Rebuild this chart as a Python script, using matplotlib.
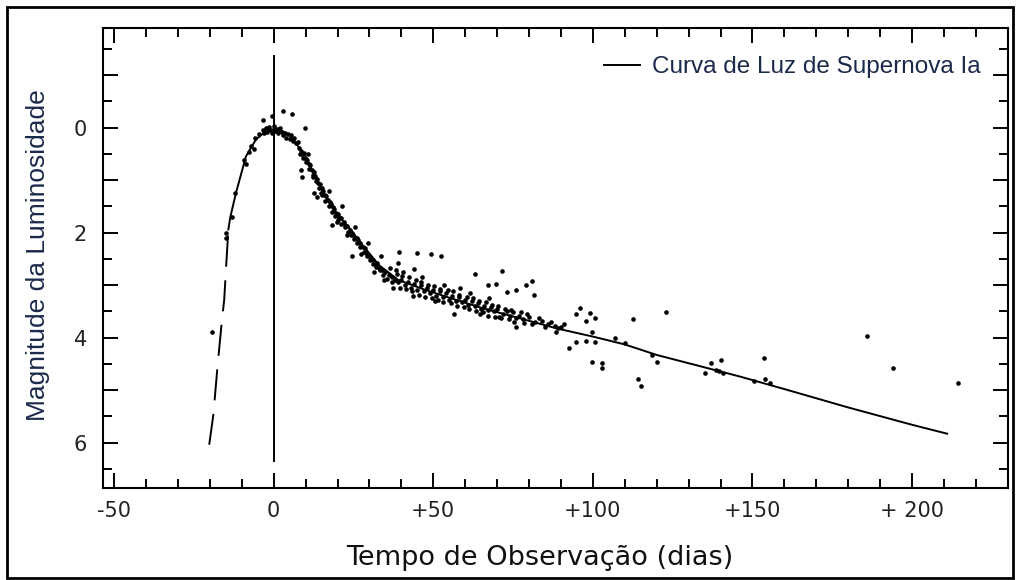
import matplotlib
matplotlib.use('Agg')
import matplotlib.pyplot as plt
import matplotlib.ticker as mtick
from matplotlib.patches import Rectangle

# rising branch (dashed part, extrapolated)
rise_days = [-20.2, -18.9, -17.6, -16.2, -15.5, -14.9, -14.2]
rise_mag = [6.04, 5.47, 4.55, 3.66, 3.28, 2.65, 1.94]

# fitted light curve (solid)
curve_days = [-14.2, -13.6, -11.8, -8.7, -5.6, -2.5, 0, 3, 5, 7, 10, 13, 16.3, 19.4,
              23.5, 27.6, 33, 39, 47, 55, 66, 77, 89, 100, 110, 120, 146, 160, 180, 200, 211]
curve_mag = [1.94, 1.71, 1.24, 0.55, 0.23, 0.07, 0.03, 0.08, 0.15, 0.3, 0.55, 0.93, 1.32, 1.62,
             1.9, 2.22, 2.62, 2.9, 3.08, 3.24, 3.45, 3.63, 3.83, 3.98, 4.13, 4.33, 4.74, 4.98, 5.33, 5.66, 5.83]

# observations
obs_days = [
    # rising side
    -19.3, -15, -15, -13.2, -12, -9.4, -8.8, -7.8, -7, -6.3, -5.7,
    # peak
    -4.5, -3.5, -3, -2.5, -2, -1.5, -1, -0.5, 0, 0.5, 1, 1.5, 2, 2.5, 3, 3.5, 4, 4.5, 5, 5.5,
    6, 6.5, 7, 7.5, -3.4, -0.6, 2.8, 5.6, 9.7,
    # early decline
    8, 8.5, 9, 9.5, 10, 10.5, 11, 11.5, 12, 12.5, 13, 13.5, 14, 14.5, 15, 15.5, 16, 16.5,
    17, 17.5, 18, 18.5, 19, 19.5, 20, 20.5, 21, 22, 22.5, 23, 24, 24.5, 25, 26, 26.5, 27,
    28, 28.5, 29, 30, 30.5, 31, 32, 32.5, 33, 34, 35,
    8.2, 9.2, 10.2, 11.2, 12.2, 13.2, 14.2, 15.2, 16.2, 17.2, 18.2, 19.2, 20.2, 21.2, 22.2,
    23.2, 24.2, 25.2, 26.2, 27.2, 28.2, 29.2, 30.2, 31.2, 32.2, 33.2, 34.2,
    10.8, 12.2, 14.8, 17.2, 19.8, 21.4, 23, 25.5, 27.5, 29.5, 31.5, 33.5, 34.5,
    8.5, 8.8, 12.6, 13.5, 18.2, 24.5,
    # plateau
    36, 37, 38, 38.5, 39, 40, 41, 42, 43, 44, 45, 46, 47, 48, 49, 50, 51, 52, 53, 54, 55,
    56, 57, 58, 59, 60, 61, 62, 63, 64, 65, 66, 67, 68, 69, 70, 72, 73, 74, 75, 76, 77, 78,
    80, 82, 84, 86,
    35.5, 36.5, 37.2, 38.2, 39.5, 40.2, 41.5, 42.5, 43.2, 44.5, 45.5, 46.2, 47.5, 48.5,
    49.5, 50.2, 51.5, 52.2, 53.2, 54.5, 55.5, 56.2, 57.5, 58.2, 59.5, 60.5, 61.2, 62.5,
    63.5, 64.2, 65.5, 66.5, 67.2, 68.5, 69.2, 70.2, 71.2, 72.5, 73.8, 74.5, 75.2, 77.5,
    78.5, 79.5, 81, 83, 85, 87, 88.5,
    37.5, 40.5, 43.5, 46.5, 50.5, 53.5, 56.4, 58.5, 61.5, 64.5, 67.5, 70.5, 73, 75.8, 76,
    79, 81, 81.5, 69.6,
    39.3, 45, 49.4, 52.5, 63, 71.5, 39, 44, 67,
    # late
    88, 89, 90, 91, 92.5, 94.6, 94.6, 96, 97.7, 98, 99, 99.7, 99.7, 100.6, 100.6, 102.8,
    103, 107, 110, 112.5, 114, 115, 118.5, 120, 123,
    135, 137, 138.5, 139.5, 140, 140.8, 150.5, 153.6, 154, 155.5,
    186, 194, 214.4,
]
obs_mag = [
    3.9, 2.0, 2.1, 1.7, 1.25, 0.62, 0.7, 0.47, 0.35, 0.4, 0.19,
    0.12, 0.05, 0.1, 0.0, 0.08, -0.02, 0.05, 0.1, -0.03, 0.06, 0.02, 0.1, 0.0, 0.08, 0.15,
    0.1, 0.2, 0.12, 0.22, 0.15, 0.25, 0.2, 0.3, 0.28, -0.15, -0.22, -0.32, -0.25, 0.0,
    0.38, 0.45, 0.5, 0.48, 0.6, 0.62, 0.7, 0.72, 0.8, 0.85, 0.92, 0.98, 1.05, 1.08, 1.15, 1.2,
    1.28, 1.3, 1.38, 1.42, 1.45, 1.52, 1.55, 1.62, 1.65, 1.7, 1.72, 1.8, 1.85, 1.88, 1.95,
    2.0, 2.05, 2.1, 2.15, 2.2, 2.28, 2.3, 2.38, 2.45, 2.5, 2.52, 2.6, 2.58, 2.68, 2.72, 2.75,
    0.5, 0.58, 0.66, 0.78, 0.9, 1.02, 1.15, 1.28, 1.4, 1.5, 1.6, 1.68, 1.76, 1.83, 1.9,
    1.98, 2.04, 2.12, 2.2, 2.28, 2.36, 2.44, 2.52, 2.6, 2.66, 2.72, 2.8,
    0.5, 0.95, 1.25, 1.2, 1.8, 1.5, 2.05, 1.9, 2.4, 2.2, 2.75, 2.45, 2.9,
    0.81, 0.94, 1.25, 1.32, 1.85, 2.45,
    2.8, 2.85, 2.9, 2.78, 2.95, 2.9, 3.0, 2.95, 3.05, 2.98, 3.1, 3.0, 3.12, 3.05, 3.15, 3.1,
    3.2, 3.12, 3.22, 3.15, 3.28, 3.2, 3.3, 3.22, 3.32, 3.28, 3.38, 3.3, 3.4, 3.35, 3.45, 3.4,
    3.48, 3.42, 3.5, 3.45, 3.55, 3.5, 3.58, 3.52, 3.62, 3.58, 3.65, 3.6, 3.7, 3.68, 3.75,
    2.88, 2.68, 2.95, 2.72, 3.05, 2.82, 3.08, 2.85, 3.12, 2.9, 3.18, 2.95, 3.22, 3.0,
    3.25, 3.02, 3.28, 3.08, 3.32, 3.1, 3.35, 3.12, 3.4, 3.18, 3.42, 3.22, 3.46, 3.25,
    3.5, 3.3, 3.52, 3.32, 3.58, 3.38, 3.6, 3.4, 3.62, 3.45, 3.65, 3.48, 3.7, 3.52,
    3.72, 3.55, 3.75, 3.62, 3.8, 3.7, 3.9,
    3.05, 2.75, 3.2, 2.85, 3.3, 3.0, 3.55, 3.05, 3.15, 3.55, 3.25, 3.6, 3.13, 3.1, 3.8,
    3.0, 2.93, 3.19, 2.98,
    2.36, 2.38, 2.4, 2.45, 2.78, 2.74, 2.57, 2.7, 3.0,
    3.78, 3.82, 3.8, 3.75, 4.19, 4.09, 3.55, 3.44, 3.68, 4.07, 3.53, 3.89, 4.46, 3.62, 4.08,
    4.49, 4.57, 4.0, 4.1, 3.64, 4.78, 4.92, 4.34, 4.47, 3.51,
    4.68, 4.49, 4.62, 4.64, 4.43, 4.68, 4.83, 4.38, 4.78, 4.87,
    3.96, 4.57, 4.87,
]

xtick_vals = [-50, 0, 50, 100, 150, 200]
xtick_labels = ['-50', '0', '+50', '+100', '+150', '+ 200']
ytick_vals = [-1, 0, 1, 2, 3, 4, 5, 6]
ytick_labels = ['', '0', '', '2', '', '4', '', '6']

navy = '#1b2a4a'

fig = plt.figure(figsize=(10.19, 5.8), dpi=100)
ax = fig.add_axes([0.101, 0.159, 0.888, 0.793])

ax.plot(rise_days, rise_mag, color='black', lw=1.4, linestyle=(0, (16, 7)))
ax.plot(curve_days, curve_mag, color='black', lw=1.4, label='Curva de Luz de Supernova Ia')
ax.scatter(obs_days, obs_mag, s=11, color='black', linewidths=0, zorder=3)
ax.vlines(0, -1.39, 6.36, color='black', lw=1.4)

ax.set_xlim(-53.5, 230)
ax.set_ylim(6.86, -1.9)

ax.xaxis.set_major_locator(mtick.FixedLocator(xtick_vals))
ax.xaxis.set_major_formatter(mtick.FixedFormatter(xtick_labels))
ax.xaxis.set_minor_locator(mtick.MultipleLocator(10))
ax.yaxis.set_major_locator(mtick.FixedLocator(ytick_vals))
ax.yaxis.set_major_formatter(mtick.FixedFormatter(ytick_labels))
ax.yaxis.set_minor_locator(mtick.MultipleLocator(0.5))

ax.tick_params(which='both', direction='in', top=True, right=True, width=1.4, color='black')
ax.tick_params(which='major', length=10.5)
ax.tick_params(which='minor', length=6.5)
ax.tick_params(axis='x', which='major', pad=9.5, labelsize=15, labelcolor='#222222')
ax.tick_params(axis='y', which='major', pad=11.5, labelsize=15, labelcolor='#222222')
for lab in ax.get_xticklabels() + ax.get_yticklabels():
    lab.set_family('DejaVu Sans')

for sp in ax.spines.values():
    sp.set_linewidth(1.5)
    sp.set_color('black')

ax.set_xlabel('Tempo de Observação (dias)', fontsize=19.5, family='DejaVu Sans', color='#111111')
ax.xaxis.set_label_coords((540 - 103) / 905, (488 - 545) / 460)
ax.set_ylabel('Magnitude da Luminosidade', fontsize=19, family='Liberation Sans', color=navy)
ax.yaxis.set_label_coords((50 - 103) / 905, (488 - 255) / 460)

leg = ax.legend(loc='center right', bbox_to_anchor=(981 / 1019, 1 - 67 / 580),
                bbox_transform=fig.transFigure, frameon=False, borderpad=0,
                borderaxespad=0, handlelength=1.5, handletextpad=0.5,
                prop={'family': 'Liberation Sans', 'size': 17.5})
for t in leg.get_texts():
    t.set_color(navy)

# outer frame around the whole picture
fig.patches.append(Rectangle((0.007, 0.004), 0.987, 0.984, transform=fig.transFigure,
                             fill=False, edgecolor='black', linewidth=2))

fig.savefig('out.png', dpi=100)
